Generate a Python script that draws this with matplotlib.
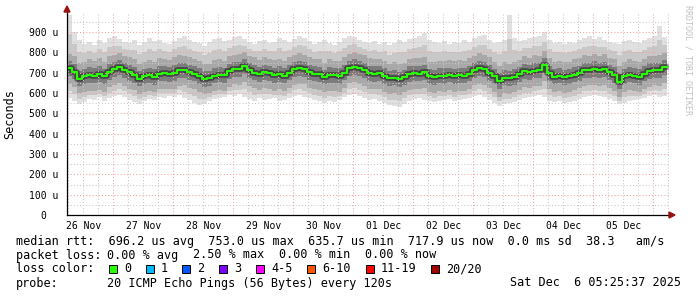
import numpy as np
import matplotlib.pyplot as plt
from matplotlib.patches import Rectangle, Polygon

W, H = 697, 297
MONO = "DejaVu Sans Mono"

# time axis: hours after 26 Nov 00:00, one sample every 2 h
START_H = 5 + 25 / 60 + 37 / 3600
STEP_H = 2.0
SPAN_H = 602 / 60 * 24

# median rtt (us)
median = [722, 705, 668, 682, 690, 686, 692, 684, 705, 716,
          728, 712, 701, 690, 670, 682, 688, 680, 696, 698,
          694, 700, 712, 714, 702, 696, 684, 670, 672, 686,
          690, 688, 706, 718, 716, 732, 712, 700, 692, 702,
          698, 688, 694, 686, 700, 716, 722, 718, 702, 696,
          692, 680, 690, 688, 684, 700, 724, 728, 722, 712,
          700, 694, 698, 684, 672, 676, 668, 680, 694, 700,
          696, 702, 684, 678, 686, 684, 690, 682, 688, 686,
          696, 714, 722, 716, 700, 684, 660, 676, 674, 680,
          692, 706, 702, 710, 712, 736, 700, 680, 686, 678,
          684, 690, 700, 712, 714, 718, 712, 716, 702, 690,
          656, 684, 690, 686, 680, 696, 708, 714, 712, 726]

# smoke: outer extent (us)
hi = [985, 900, 860, 840, 850, 835, 860, 845, 870, 880,
      865, 850, 845, 860, 835, 850, 870, 855, 860, 845,
      840, 855, 870, 880, 860, 850, 845, 830, 850, 865,
      870, 855, 860, 875, 880, 865, 850, 840, 855, 860,
      845, 850, 870, 860, 850, 865, 880, 870, 855, 840,
      850, 860, 845, 835, 850, 870, 880, 875, 860, 850,
      845, 855, 840, 850, 835, 845, 860, 850, 865, 870,
      880, 895, 860, 850, 845, 855, 840, 850, 845, 860,
      850, 870, 880, 885, 860, 845, 850, 860, 985, 870,
      855, 860, 870, 875, 880, 900, 860, 845, 850, 840,
      850, 845, 860, 870, 880, 865, 875, 860, 850, 845,
      840, 855, 860, 850, 845, 860, 870, 880, 930, 875]
lo = [575, 560, 545, 555, 570, 565, 580, 560, 575, 585,
      590, 580, 565, 555, 545, 560, 570, 565, 580, 575,
      585, 580, 590, 575, 565, 550, 540, 545, 560, 570,
      575, 580, 590, 585, 595, 580, 570, 560, 575, 565,
      570, 575, 560, 565, 575, 585, 590, 580, 575, 565,
      560, 550, 560, 555, 565, 580, 590, 595, 585, 575,
      565, 570, 560, 550, 540, 535, 530, 545, 560, 570,
      575, 565, 560, 555, 560, 565, 570, 560, 565, 570,
      575, 585, 590, 580, 565, 550, 535, 545, 550, 555,
      565, 575, 580, 585, 590, 580, 560, 555, 560, 550,
      555, 560, 570, 580, 585, 590, 585, 580, 570, 560,
      545, 550, 560, 565, 570, 575, 585, 590, 580, 585]

# smoke: middle band (us)
mid_hi = [792, 780, 748, 752, 765, 756, 770, 754, 780, 786,
          798, 782, 776, 765, 745, 752, 763, 755, 771, 768,
          764, 775, 787, 784, 777, 766, 759, 745, 742, 761,
          765, 758, 781, 788, 791, 802, 782, 775, 762, 777,
          768, 763, 769, 756, 775, 786, 797, 788, 777, 766,
          767, 750, 765, 758, 759, 775, 794, 803, 792, 787,
          770, 769, 768, 759, 742, 751, 743, 750, 769, 770,
          771, 777, 754, 753, 756, 759, 760, 757, 763, 756,
          771, 784, 797, 786, 775, 754, 735, 751, 744, 755,
          762, 781, 772, 785, 782, 806, 770, 755, 756, 753,
          754, 765, 770, 787, 784, 793, 782, 791, 772, 765,
          731, 754, 765, 756, 755, 766, 783, 784, 787, 796]
mid_lo = [645, 630, 598, 607, 612, 611, 615, 606, 628, 638,
          650, 636, 622, 613, 596, 605, 610, 603, 620, 621,
          618, 622, 636, 637, 626, 618, 606, 594, 598, 610,
          614, 612, 630, 642, 638, 655, 636, 624, 615, 626,
          621, 610, 618, 608, 624, 640, 645, 642, 625, 620,
          614, 604, 612, 610, 607, 624, 648, 652, 646, 636,
          622, 618, 620, 607, 596, 598, 590, 603, 617, 622,
          620, 626, 606, 600, 610, 607, 614, 604, 612, 608,
          620, 637, 645, 640, 623, 606, 582, 598, 596, 603,
          616, 630, 625, 633, 636, 660, 622, 604, 609, 600,
          606, 614, 623, 636, 637, 641, 636, 640, 625, 612,
          580, 606, 614, 609, 603, 620, 631, 638, 636, 650]

day_labels = ["26 Nov", "27 Nov", "28 Nov", "29 Nov", "30 Nov",
              "01 Dec", "02 Dec", "03 Dec", "04 Dec", "05 Dec"]
y_ticks = [0, 100, 200, 300, 400, 500, 600, 700, 800, 900]
y_labels = ["0  ", "100 u", "200 u", "300 u", "400 u", "500 u",
            "600 u", "700 u", "800 u", "900 u"]

loss_labels = ["0", "1", "2", "3", "4-5", "6-10", "11-19", "20/20"]
loss_colors = ["#26ff00", "#00b8ff", "#0059ff", "#7e00ff",
               "#ff00ff", "#ff5500", "#ff0000", "#a10000"]
loss_box_x = [109, 146, 182, 219, 256, 307, 366, 431]


def fx(px):
    return px / W


def fy(py):
    return 1 - py / H


def stepped(v):
    return np.append(v, v[-1])


fig = plt.figure(figsize=(W / 100, H / 100), dpi=100)
fig.patch.set_facecolor("white")
ax = fig.add_axes([fx(67), fy(215), 602 / W, 203.3 / H])

edges = START_H + STEP_H * np.arange(len(median) + 1)
med = np.array(median, float)

# smoke, light outside -> dark toward the median
bands = [(np.array(lo, float), np.array(hi, float), "#e0e0e0"),
         (np.array(mid_lo, float), np.array(mid_hi, float), "#a8a8a8")]
ax.fill_between(edges, stepped(bands[0][0]), stepped(bands[0][1]), step="post",
                color=bands[0][2], lw=0, zorder=1)
# shading halfway between the outer and middle band
ax.fill_between(edges, stepped((bands[0][0] + bands[1][0]) / 2),
                stepped((bands[0][1] + bands[1][1]) / 2), step="post",
                color="#c8c8c8", lw=0, zorder=1.2)
ax.fill_between(edges, stepped(bands[1][0]), stepped(bands[1][1]), step="post",
                color=bands[1][2], lw=0, zorder=1.4)
ax.fill_between(edges, stepped((bands[1][0] + med) / 2),
                stepped((bands[1][1] + med) / 2), step="post",
                color="#7c7c7c", lw=0, zorder=1.6)
ax.step(edges, stepped(median), where="post", color="black",
        alpha=0.45, lw=4, zorder=2)

# grid on top of smoke
for v in range(50, 1000, 50):
    ax.axhline(v, color="#f0a0a0" if v % 100 == 0 else "#c8c8c8",
               lw=0.75, ls=(0, (1, 2)), zorder=3)
for h in range(0, 264, 6):
    if START_H < h < START_H + SPAN_H:
        ax.axvline(h, color="#f0a0a0" if h % 24 == 0 else "#c8c8c8",
                   lw=0.75, ls=(0, (1, 2)), zorder=3)

ax.step(edges, stepped(median), where="post", color="#26ff00",
        lw=1.5, zorder=4)

ax.set_xlim(START_H, START_H + SPAN_H)
ax.set_ylim(0, 1000)
ax.set_xticks([12 + 24 * i for i in range(len(day_labels))], day_labels,
              fontfamily=MONO, fontsize=7)
ax.set_yticks(y_ticks, y_labels, fontfamily=MONO, fontsize=7)
ax.tick_params(length=0)
ax.tick_params(axis="y", pad=6)
ax.tick_params(axis="x", pad=4)
for s in ("top", "right"):
    ax.spines[s].set_visible(False)
for s in ("left", "bottom"):
    ax.spines[s].set_linewidth(0.9)
    ax.spines[s].set_zorder(5)

# axis arrows
arrow = "#9a1010"
fig.patches.append(Polygon([(fx(64), fy(12)), (fx(70), fy(12)), (fx(67), fy(6))],
                           closed=True, color=arrow, transform=fig.transFigure))
fig.patches.append(Polygon([(fx(669), fy(212)), (fx(669), fy(218)), (fx(675), fy(215))],
                           closed=True, color=arrow, transform=fig.transFigure))

fig.text(fx(10), fy(114), "Seconds", rotation=90, family=MONO, fontsize=8.5,
         ha="center", va="center")
fig.text(fx(688), fy(60), "RRDTOOL / TOBI OETIKER", rotation=270, family=MONO,
         fontsize=6, color="#c0c0c0", ha="center", va="center")

# legend lines
txt = dict(family=MONO, fontsize=8.5, va="center", ha="left")
fig.text(fx(16), fy(241), "median rtt:  696.2 us avg  753.0 us max  635.7 us min"
         "  717.9 us now  0.0 ms sd  38.3   am/s", **txt)
fig.text(fx(16), fy(255), "packet loss:", **txt)
for x, s in [(107, "0.00 % avg"), (193, "2.50 % max"),
             (279, "0.00 % min"), (365, "0.00 % now")]:
    fig.text(fx(x), fy(255), s, **txt)
fig.text(fx(16), fy(269), "loss color:", **txt)
for x, lab, col in zip(loss_box_x, loss_labels, loss_colors):
    fig.patches.append(Rectangle((fx(x), fy(273)), 8 / W, 8 / H, facecolor=col,
                                 edgecolor="black", lw=0.7, transform=fig.transFigure))
    fig.text(fx(x + 15), fy(269), lab, **txt)
fig.text(fx(16), fy(283), "probe:", **txt)
fig.text(fx(107), fy(283), "20 ICMP Echo Pings (56 Bytes) every 120s", **txt)
fig.text(fx(681), fy(283), "Sat Dec  6 05:25:37 2025",
         **{**txt, "ha": "right"})

fig.savefig("out.png", dpi=100, facecolor="white")
